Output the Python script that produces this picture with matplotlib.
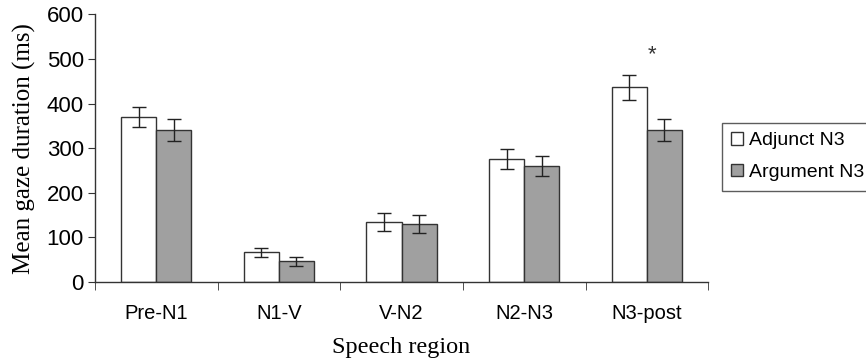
import matplotlib
matplotlib.use("Agg")
import matplotlib.pyplot as plt
import numpy as np

categories = ["Pre-N1", "N1-V", "V-N2", "N2-N3", "N3-post"]
adjunct = [370, 67, 135, 276, 437]
argument = [341, 46, 130, 260, 341]
adjunct_err = [22, 10, 20, 22, 28]
argument_err = [24, 11, 21, 22, 25]
series_names = ["Adjunct N3", "Argument N3"]
yticks = [0, 100, 200, 300, 400, 500, 600]

fig = plt.figure(figsize=(8.66, 3.6), dpi=100)
ax = fig.add_axes([0.1097, 0.2167, 0.708, 0.7436])

x = np.arange(len(categories))
w = 0.286
ekw = dict(ecolor="#222222", elinewidth=1.0, capsize=5, capthick=1.0)
ax.bar(x - w/2, adjunct, w, color="white", edgecolor="#333333", linewidth=1.0,
       yerr=adjunct_err, error_kw=ekw, label=series_names[0])
ax.bar(x + w/2, argument, w, color="#a0a0a0", edgecolor="#333333", linewidth=1.0,
       yerr=argument_err, error_kw=ekw, label=series_names[1])

ax.text(x[4] + 0.04, 510, "*", ha="center", va="center", fontsize=16,
        family="Liberation Sans", color="#333333")

ax.set_xlim(-0.5, len(categories) - 0.5)
ax.set_ylim(0, 600)
ax.set_yticks(yticks)
ax.set_yticklabels([str(v) for v in yticks], family="Liberation Sans", fontsize=16)
ax.set_xticks(x)
ax.set_xticklabels(categories, family="Liberation Sans", fontsize=14.5)
ax.tick_params(axis="x", length=0, pad=16)
ax.set_xticks(np.arange(len(categories) + 1) - 0.5, minor=True)
ax.tick_params(axis="x", which="minor", length=6, direction="out", color="#333333")
ax.tick_params(axis="y", length=5, direction="out", color="#333333", pad=3)

for s in ["top", "right"]:
    ax.spines[s].set_visible(False)
for s in ["left", "bottom"]:
    ax.spines[s].set_color("#333333")
    ax.spines[s].set_linewidth(1.0)

ax.set_xlabel("Speech region", family="Liberation Serif", fontsize=17.5, labelpad=10)
ax.set_ylabel("Mean gaze duration (ms)", family="Liberation Serif", fontsize=18, labelpad=8)

leg = ax.legend(loc="upper left", bbox_to_anchor=(1.022, 0.595), frameon=True,
                fancybox=False, edgecolor="#333333", prop={"family": "Liberation Sans", "size": 14},
                handlelength=0.6, handleheight=0.6, handletextpad=0.3, borderpad=0.5,
                labelspacing=0.75, borderaxespad=0)
leg.get_frame().set_linewidth(1.0)

fig.savefig("out.png", dpi=100)
